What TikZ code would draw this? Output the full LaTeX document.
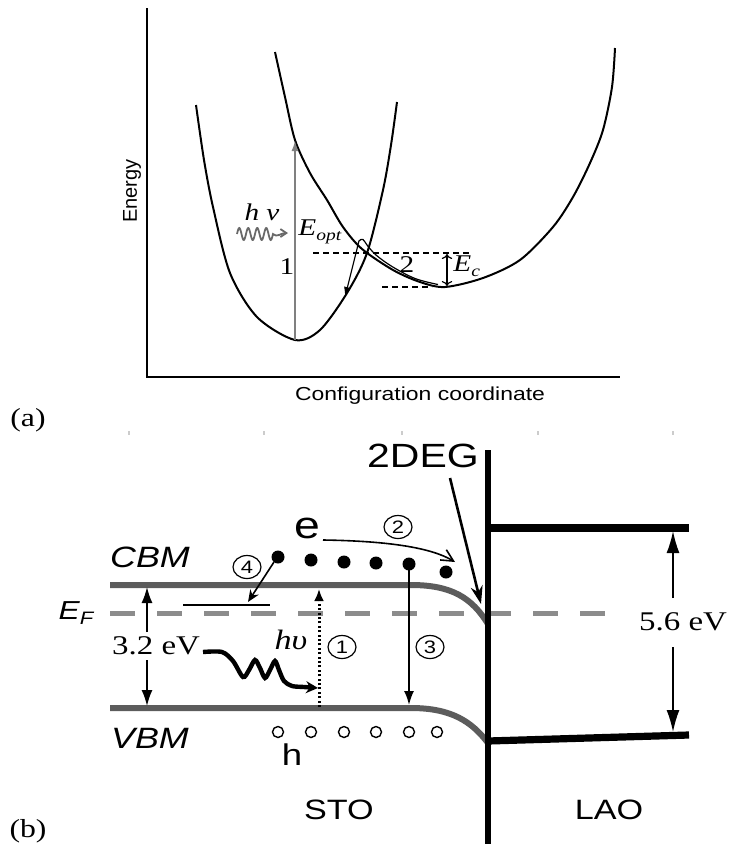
\documentclass[tikz,border=0pt]{standalone}
\usepackage{fontspec}
\setmainfont{Liberation Serif}
\setsansfont{Liberation Sans}
\usetikzlibrary{arrows.meta,shapes.geometric}
\definecolor{bandgray}{RGB}{92,92,92}
\definecolor{fermigray}{RGB}{140,140,140}
\definecolor{wavegray}{RGB}{105,105,105}
\newcommand{\stretchx}[1]{\scalebox{1.22}[1]{#1}}
\newcommand{\fs}[1]{\fontsize{#1}{#1}\selectfont}
\tikzset{
  curve/.style={line width=1pt},
  dashline/.style={line width=0.6pt,dash pattern=on 3pt off 2pt},
  band/.style={line width=3pt,draw=bandgray},
  lao/.style={line width=3.6pt},
  num/.style={draw,ellipse,line width=0.6pt,minimum width=14pt,minimum height=11.5pt,inner sep=0pt,font=\sffamily\fs{9}},
  sans/.style={font=\sffamily\fs{#1}},
  serif/.style={font=\fs{#1}},
}
\begin{document}
\begin{tikzpicture}[x=0.5pt,y=-0.5pt,>=Stealth]
	\useasboundingbox (0,0) rectangle (733,852);
	% (a) configuration coordinate
	\draw[line width=1.1pt] (147,8) -- (147,377) -- (620,377);
	\node[sans=10,rotate=90] (energy) at (132,191) {Energy};
	\node[sans=9.4] (xlab) at (420,396) {\stretchx{Configuration coordinate}};
	\node[serif=13] (lbla) at (28,420) {\stretchx{(a)}};
	\draw[curve] plot[smooth] coordinates {(196,105) (204,160) (213,207) (230,273) (257,317) (295,340) (320,330) (347,293) (367,253) (383,190) (391,145) (397,102)};
	\draw[curve] plot[smooth] coordinates {(275,52) (285,97) (295,140) (310,173) (327,200) (343,227) (362,249) (393,270) (420,282) (445,287) (483,278) (520,260) (553,227) (573,197) (590,163) (603,130) (612,87) (615,48)};
	\coordinate (gmin) at (295,340);
	\coordinate (gtop) at (295,141);
	\draw[gray,line width=0.6pt,-{Latex[length=5pt,width=3.5pt]}] (gmin) -- (gtop);
	\draw[dashline] (313,253) -- (472,253);
	\draw[dashline] (382,287) -- (432,287);
	\coordinate (ectop) at (447,254);
	\coordinate (ecbot) at (447,286);
	\draw[line width=0.6pt,{To[length=2.5pt]}-{To[length=2.5pt]}] (ectop) -- (ecbot);
	\draw[wavegray,line width=0.9pt,-{Straight Barb[length=3pt,width=4pt]}] plot[domain=237:273,samples=80] (\x,{234-6*sin((\x-237)*40)}) .. controls (277,238) and (281,233) .. (288,233);
	\draw[line width=0.6pt,-{Latex[length=5pt,width=3.5pt]}] plot[smooth,tension=0.55] coordinates {(438,284.5) (415,278.5) (392,266.5) (376,255) (367,245) (363,239.5) (359,241) (357,249) (353,265) (345,297)};
	\node[serif=12] (hnu) at (262,212) {\stretchx{\itshape h ν}};
	\node[serif=12,anchor=west,inner sep=0pt] (eopt) at (298,232) {\stretchx{\itshape E\raisebox{-0.5ex}{\fs{8}opt}}};
	\node[serif=12] (one) at (287,267) {\stretchx{1}};
	\node[serif=12] (two) at (407,265) {\stretchx{2}};
	\node[serif=12,anchor=west,inner sep=0pt] (ec) at (453,266) {\stretchx{\itshape E\raisebox{-0.5ex}{\fs{8}c}}};
	% (b) band diagram
	\foreach \tx in {129,264,402,538,673}
		\draw[gray!40,line width=0.6pt] (\tx,431) -- (\tx,435);
	\draw[fermigray,line width=2.5pt,dash pattern=on 12.5pt off 11pt] (110,613) -- (606,613);
	\draw[band] (110,585) -- (411,585) .. controls (452,585) and (472,598) .. (488,624);
	\draw[band] (110,708) -- (411,708) .. controls (452,708) and (472,722) .. (488,743);
	\draw[line width=2.6pt] (488,450) -- (488,844);
	\draw[lao] (488,528) -- (689,528);
	\draw[lao] (488,741) -- (689,735);
	\draw[line width=1.2pt] (183,605) -- (270,605);
	\foreach \ex/\ey in {278/557,311/560,344/562,376/563,409/564,446/572}
		\fill (\ex,\ey) circle (3.25pt);
	\foreach \hx in {278,311,344,376,409,437}
		\draw[line width=0.7pt] (\hx,732) circle (2.75pt);
	\node[sans=19] (elec) at (307,528) {\stretchx{e}};
	\node[sans=15] (hole) at (292,755) {\stretchx{h}};
	\node[sans=16.8] (deg) at (423,456) {\stretchx{2DEG}};
	\node[sans=14.7] (cbm) at (150,557) {\stretchx{\itshape CBM}};
	\node[sans=14.7] (vbm) at (150,738) {\stretchx{\itshape VBM}};
	\node[sans=13] (ef) at (76,613) {\stretchx{\itshape E\raisebox{-0.4ex}{\fs{9}F}}};
	\node[serif=13.5] (gs) at (156,646) {\stretchx{3.2 eV}};
	\node[serif=13.5] (gl) at (683,622) {\stretchx{5.6 eV}};
	\node[sans=14] (sto) at (339,810) {\stretchx{STO}};
	\node[sans=14] (lao) at (609,810) {\stretchx{LAO}};
	\node[serif=13] (lblb) at (28,831) {\stretchx{(b)}};
	\node[serif=14] (hv) at (291,640) {\stretchx{\itshape hυ}};
	\node[num] (n1) at (342,647) {\stretchx{1}};
	\node[num] (n2) at (398,527) {\stretchx{2}};
	\node[num] (n3) at (430,647) {\stretchx{3}};
	\node[num] (n4) at (247,567) {\stretchx{4}};
	% arrows
	\coordinate (gsup) at (147,632);
	\coordinate (gscb) at (147,587);
	\coordinate (gsdn) at (147,660);
	\coordinate (gsvb) at (147,706);
	\draw[line width=0.8pt,-{Latex[length=8pt,width=5.5pt]}] (gsup) -- (gscb);
	\draw[line width=0.8pt,-{Latex[length=8pt,width=5.5pt]}] (gsdn) -- (gsvb);
	\coordinate (glup) at (673,598);
	\coordinate (glcb) at (673,531);
	\coordinate (gldn) at (673,647);
	\coordinate (glvb) at (673,732);
	\draw[line width=0.8pt,-{Latex[length=11pt,width=6.5pt]}] (glup) -- (glcb);
	\draw[line width=0.8pt,-{Latex[length=11pt,width=6.5pt]}] (gldn) -- (glvb);
	\draw[line width=0.9pt,-{Latex[length=7pt,width=5pt]}] (409,566) -- (409,705);
	\draw[line width=1.5pt,dash pattern=on 1pt off 1.2pt,-{Latex[length=6pt,width=5pt]}] (319,707) -- (319,589);
	\draw[line width=0.8pt,-{Stealth[length=6pt,width=5pt]}] (274,562) -- (248,602);
	\draw[line width=0.8pt,-{Straight Barb[length=6pt,width=6pt]}] (323,540) .. controls (390,541) and (432,548) .. (455,562);
	\coordinate (degtip) at (481,604);
	\draw[line width=1.3pt,-{Stealth[length=9pt,width=6pt]}] (450,478) -- (degtip);
	\draw[line width=2.2pt,-{Stealth[length=6pt,width=6pt]}] plot[smooth] coordinates {(203,652) (222,652) (233,661) (243,677) (249,670) (255,660) (260,668) (265,678) (270,670) (275,661) (279,670) (284,681) (292,686) (304,687) (318,688)};
\end{tikzpicture}
\end{document}
